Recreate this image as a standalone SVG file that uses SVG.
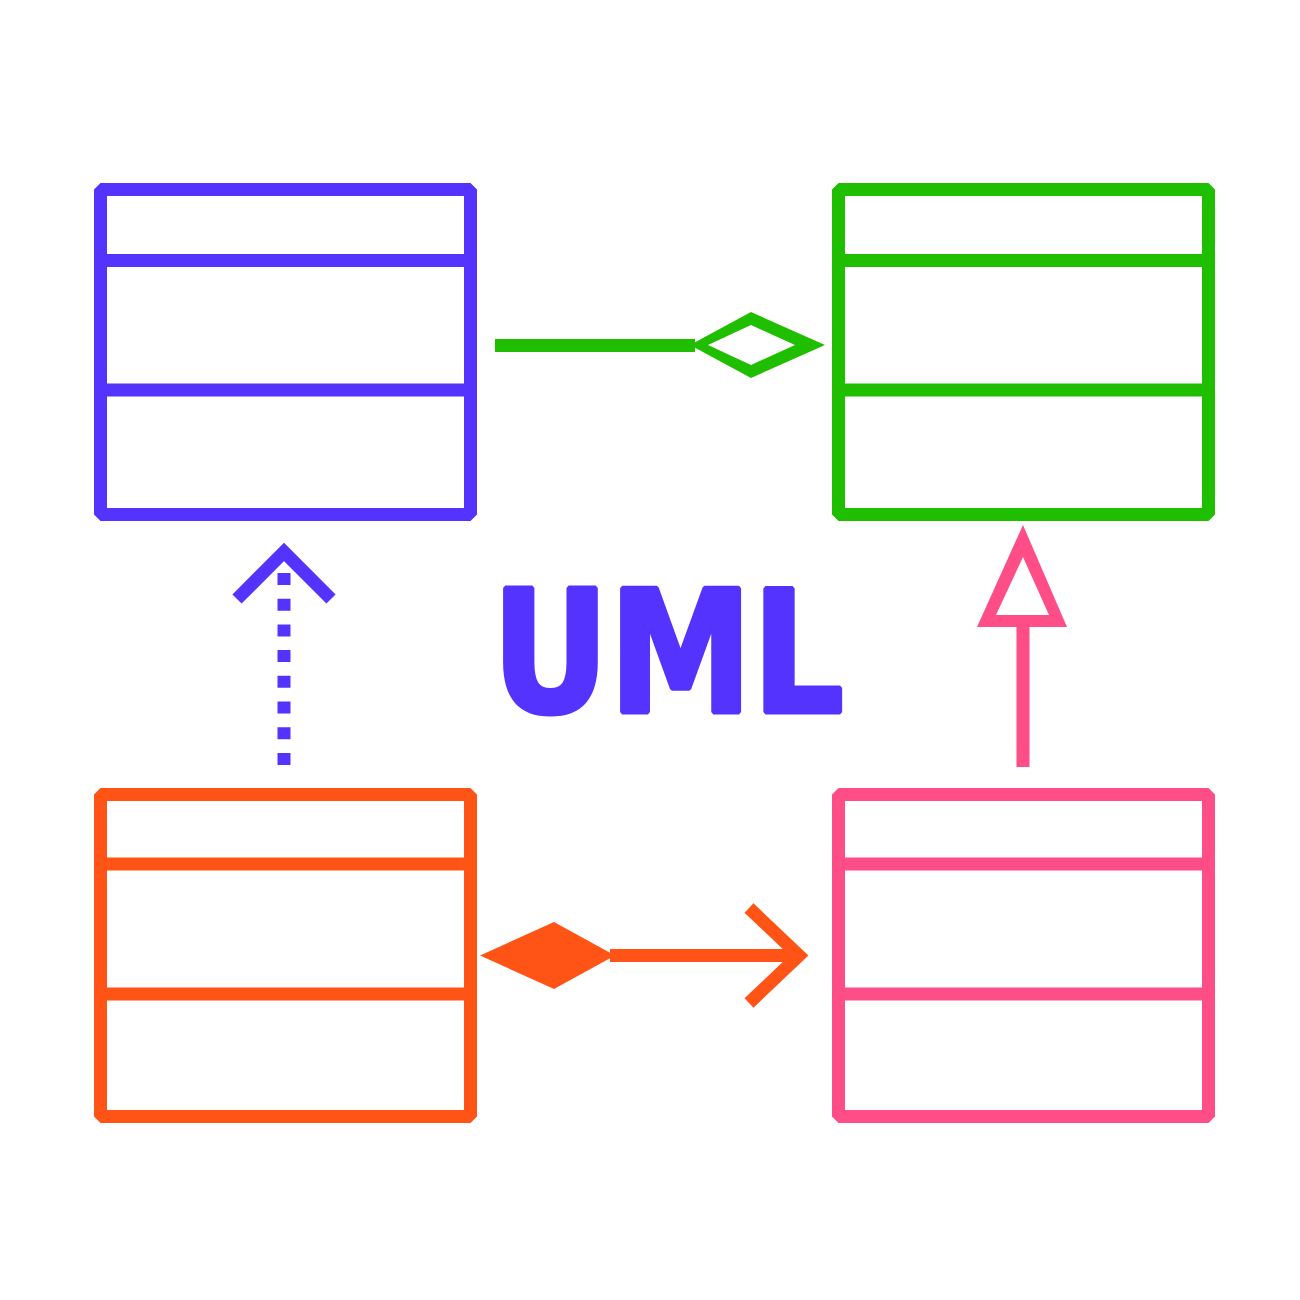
<svg xmlns="http://www.w3.org/2000/svg" width="1300" height="1300" viewBox="0 0 1300 1300">
<style>
.box{fill:none;stroke-width:13;stroke-linejoin:bevel}
.div{stroke-width:13}
.blue{stroke:#5533FF}
.green{stroke:#1FBF00}
.orange{stroke:#FF5416}
.pink{stroke:#FF4D88}
.ln{fill:none;stroke-width:13}
</style>
<rect width="1300" height="1300" fill="#FFFFFF"/>
<g id="class-blue">
<rect class="box blue" x="100.5" y="189.5" width="370" height="325"/>
<line class="div blue" x1="100" y1="260.5" x2="471" y2="260.5"/>
<line class="div blue" x1="100" y1="390" x2="471" y2="390"/>
</g>
<g id="class-green">
<rect class="box green" x="838.5" y="189.5" width="370" height="325"/>
<line class="div green" x1="838" y1="260.5" x2="1209" y2="260.5"/>
<line class="div green" x1="838" y1="390" x2="1209" y2="390"/>
</g>
<g id="class-orange">
<rect class="box orange" x="100.5" y="794.5" width="370" height="322"/>
<line class="div orange" x1="100" y1="864" x2="471" y2="864"/>
<line class="div orange" x1="100" y1="994" x2="471" y2="994"/>
</g>
<g id="class-pink">
<rect class="box pink" x="838.5" y="794.5" width="370" height="322"/>
<line class="div pink" x1="838" y1="864" x2="1209" y2="864"/>
<line class="div pink" x1="838" y1="994" x2="1209" y2="994"/>
</g>
<g id="title">
<text x="492" y="712" font-family="DejaVu Sans, sans-serif" font-weight="bold" font-size="170" fill="#5533FF" stroke="#5533FF" stroke-width="5" stroke-linejoin="bevel" textLength="352" lengthAdjust="spacingAndGlyphs">UML</text>
</g>
<g id="connectors">
<g id="aggregation">
<line class="ln green" x1="495" y1="345.5" x2="695" y2="345.5" stroke-width="12"/>
<path fill="#1FBF00" fill-rule="evenodd" d="M690 345 L751 312 L825 345 L751 378 Z M708 345 L751 325 L795 345 L751 365 Z"/>
</g>
<g id="dependency">
<line class="ln blue" x1="284" y1="573" x2="284" y2="767" stroke-width="12" stroke-dasharray="12 13.7"/>
<polyline class="ln blue" points="237,599 284,552 331,599" stroke-linejoin="miter"/>
</g>
<g id="generalization">
<line class="ln pink" x1="1023" y1="620" x2="1023" y2="767" stroke-width="12"/>
<path fill="#FF4D88" fill-rule="evenodd" d="M1023 525 L1067 627 L977 627 Z M1023 557 L1049 615 L996 615 Z"/>
</g>
<g id="composition">
<path fill="#FF5416" d="M480 955.5 L554 922 L615 955.5 L554 989 Z"/>
<line class="ln orange" x1="610" y1="955.5" x2="800" y2="955.5"/>
<polyline class="ln orange" points="749,908 799,955.5 749,1003" stroke-linejoin="miter"/>
</g>
</g>
</svg>
